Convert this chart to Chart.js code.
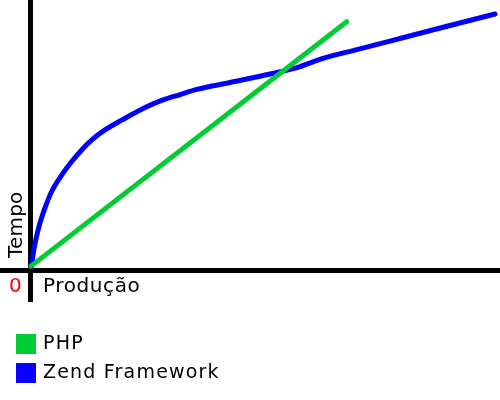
<!DOCTYPE html>
<html><head><meta charset="utf-8">
<script src="https://cdn.jsdelivr.net/npm/chart.js@4/dist/chart.umd.min.js"></script>
<style>
html,body{margin:0;padding:0;background:#fff;}
#wrap{position:relative;width:500px;height:400px;overflow:hidden;font-family:"DejaVu Sans",Verdana,sans-serif;color:#000;}
#c{position:absolute;left:0;top:0;}
.lbl{position:absolute;white-space:nowrap;line-height:1;font-size:20px;}
#ylab{left:4.7px;top:257.5px;transform-origin:0 0;transform:rotate(-90deg);letter-spacing:0.2px;}
#xlab{left:43px;top:274.7px;letter-spacing:0.6px;}
#zero{left:9px;top:274.7px;color:#ff0000;}
.leg{position:absolute;left:16px;height:20px;white-space:nowrap;font-size:19px;line-height:1;letter-spacing:1.2px;}
.leg i{position:absolute;left:0;top:0;width:20px;height:20px;}
.leg span{position:absolute;left:27px;top:-1.2px;}
</style></head><body>
<div id="wrap">
<canvas id="c" width="500" height="400"></canvas>
<div class="lbl" id="ylab"></div>
<div class="lbl" id="xlab"></div>
<div class="lbl" id="zero"></div>
<div id="legend"></div>
</div>
<script>
// ---- data ----
const seriesNames = ['PHP', 'Zend Framework'];
const seriesColors = ['#00cc33', '#0a00ff'];
const xAxisLabel = 'Produção';
const yAxisLabel = 'Tempo';
const originLabel = '0';

const phpX = [0.1, 68.0];
const phpY = [1.7, 97.0];

const zendX = [0.2, 0.43, 0.75, 1.18, 2.0, 3.3, 4.6, 6.7, 8.7, 11.0, 13.2, 16.0, 19.7, 25.1, 28.5, 32.2, 35.8, 42.9, 50.0, 57.3, 62.9, 70.2, 77.3, 84.4, 91.7, 99.9];
const zendY = [1.4, 4.5, 8.4, 12.3, 18.3, 25.3, 31.0, 37.2, 42.1, 47.0, 50.9, 54.8, 58.7, 63.9, 66.5, 68.6, 70.6, 73.3, 76.0, 79.1, 82.7, 86.1, 89.4, 92.8, 96.2, 100.0];

const toPoints = (xs, ys) => xs.map((x, i) => ({x: x, y: ys[i]}));

document.getElementById('ylab').textContent = yAxisLabel;
document.getElementById('xlab').textContent = xAxisLabel;
document.getElementById('zero').textContent = originLabel;

const axisGrid = {drawTicks: false, lineWidth: 5, color: '#000'};
const onlyZero = s => { s.ticks = [{value: 0}]; };

const chart = new Chart(document.getElementById('c'), {
  type: 'line',
  data: {
    datasets: [
      {label: seriesNames[0], data: toPoints(phpX, phpY), borderColor: seriesColors[0], backgroundColor: seriesColors[0],
       borderWidth: 5, borderCapStyle: 'round', borderJoinStyle: 'round', fill: false, tension: 0},
      {label: seriesNames[1], data: toPoints(zendX, zendY), borderColor: '#0000ff', backgroundColor: seriesColors[1],
       borderWidth: 5, borderCapStyle: 'round', borderJoinStyle: 'round', fill: false, cubicInterpolationMode: 'monotone'}
    ]
  },
  options: {
    responsive: false,
    animation: false,
    devicePixelRatio: 1,
    layout: {padding: {left: 0, right: 0, top: 0, bottom: 98}},
    plugins: {legend: {display: false}, tooltip: {enabled: false}},
    elements: {point: {radius: 0, hoverRadius: 0}},
    scales: {
      x: {type: 'linear', min: -6.559, max: 100.97, ticks: {display: false}, border: {display: false}, grid: axisGrid, afterBuildTicks: onlyZero},
      y: {type: 'linear', min: -12.28, max: 105.46, ticks: {display: false}, border: {display: false}, grid: axisGrid, afterBuildTicks: onlyZero}
    }
  }
});

// HTML legend built from the chart's datasets
const legend = document.getElementById('legend');
const legTops = [334, 363];
chart.data.datasets.forEach((ds, i) => {
  const d = document.createElement('div');
  d.className = 'leg';
  d.style.top = legTops[i] + 'px';
  const sw = document.createElement('i');
  sw.style.background = seriesColors[i];
  const t = document.createElement('span');
  t.textContent = ds.label;
  d.appendChild(sw); d.appendChild(t);
  legend.appendChild(d);
});
</script>
</body></html>
